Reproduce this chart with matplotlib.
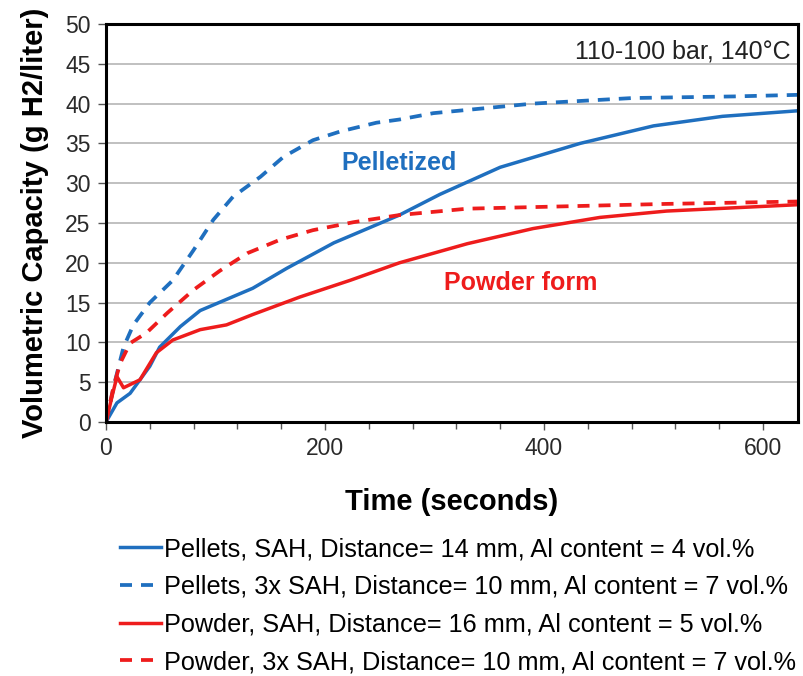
import numpy as np
import matplotlib
matplotlib.use("Agg")
import matplotlib.pyplot as plt

plt.rcParams["font.family"] = ["Liberation Sans", "DejaVu Sans"]

# Curves (time in s, capacity in g H2/liter)
pel_sah_t = [0, 10, 22, 40, 49, 68, 86, 110, 134, 165, 208, 268, 305, 360, 433, 500, 563, 632]
pel_sah_v = [0, 2.4, 3.6, 7.0, 9.4, 12.0, 14.0, 15.4, 16.8, 19.3, 22.5, 26.0, 28.6, 32.0, 35.0, 37.2, 38.4, 39.1]

pel_3x_t = [0, 8, 16, 25, 40, 61, 80, 98, 116, 141, 162, 189, 214, 247, 268, 299, 390, 481, 573, 632]
pel_3x_v = [0, 5.0, 9.4, 12.2, 15.0, 17.8, 21.6, 25.4, 28.3, 30.8, 33.3, 35.4, 36.5, 37.6, 38.0, 38.8, 40.0, 40.7, 40.9, 41.1]

pow_sah_t = [0, 6, 10, 16, 31, 46, 61, 86, 110, 134, 177, 223, 268, 330, 390, 451, 512, 632]
pow_sah_v = [0, 3.5, 5.7, 4.3, 5.3, 8.7, 10.3, 11.6, 12.2, 13.5, 15.7, 17.8, 20.0, 22.4, 24.3, 25.7, 26.5, 27.3]

pow_3x_t = [0, 7, 13, 22, 37, 56, 80, 104, 129, 159, 189, 226, 268, 330, 421, 512, 632]
pow_3x_v = [0, 4.5, 7.4, 9.9, 11.2, 13.7, 16.6, 19.0, 21.2, 22.9, 24.1, 25.1, 26.0, 26.8, 27.1, 27.4, 27.7]

labels = [
    "Pellets, SAH, Distance= 14 mm, Al content = 4 vol.%",
    "Pellets, 3x SAH, Distance= 10 mm, Al content = 7 vol.%",
    "Powder, SAH, Distance= 16 mm, Al content = 5 vol.%",
    "Powder, 3x SAH, Distance= 10 mm, Al content = 7 vol.%",
]

BLUE = "#1f6fbf"
RED = "#ee1c1c"

fig = plt.figure(figsize=(8.04, 6.76), dpi=100)
ax = fig.add_axes([106 / 804, 1 - 422 / 676, 692 / 804, 398 / 676])

ax.plot(pel_sah_t, pel_sah_v, color=BLUE, lw=2.5, label=labels[0])
ax.plot(pel_3x_t, pel_3x_v, color=BLUE, lw=2.7, dashes=(3.2, 2.4), label=labels[1])
ax.plot(pow_sah_t, pow_sah_v, color=RED, lw=2.5, label=labels[2])
ax.plot(pow_3x_t, pow_3x_v, color=RED, lw=2.7, dashes=(3.2, 2.4), label=labels[3])

ax.set_xlim(0, 632)
ax.set_ylim(0, 50)
ax.set_yticks(np.arange(0, 51, 5))
ax.set_xticks([0, 200, 400, 600])
ax.set_xticks(np.arange(0, 632, 40), minor=True)
ax.yaxis.grid(True, color="#c0c0c0", lw=1.4)
ax.set_axisbelow(True)
for s in ax.spines.values():
    s.set_linewidth(2.2)
ax.tick_params(axis="both", which="major", labelsize=16.5, length=6, width=1, color="#555555", pad=5)
ax.tick_params(axis="x", which="minor", length=5, width=1, color="#555555")
for lab in ax.get_xticklabels() + ax.get_yticklabels():
    lab.set_color("#2a2a2a")

ax.set_xlabel("Time (seconds)", fontsize=21, fontweight="bold", labelpad=20)
ax.set_ylabel("Volumetric Capacity (g H2/liter)", fontsize=21, fontweight="bold", labelpad=12)

ax.text(268, 32.5, "Pelletized", color=BLUE, fontsize=18, fontweight="bold", ha="center", va="center")
ax.text(379, 17.4, "Powder form", color=RED, fontsize=18, fontweight="bold", ha="center", va="center")
ax.text(0.99, 0.962, "110-100 bar, 140°C", transform=ax.transAxes, fontsize=18,
        ha="right", va="top", color="#222222")

fig.legend(loc="upper left", bbox_to_anchor=(110 / 804, 1 - 527 / 676), frameon=False,
           fontsize=18.2, handlelength=1.6, handletextpad=0.15, labelspacing=0.54,
           borderaxespad=0)

fig.savefig("out.png", dpi=100)
